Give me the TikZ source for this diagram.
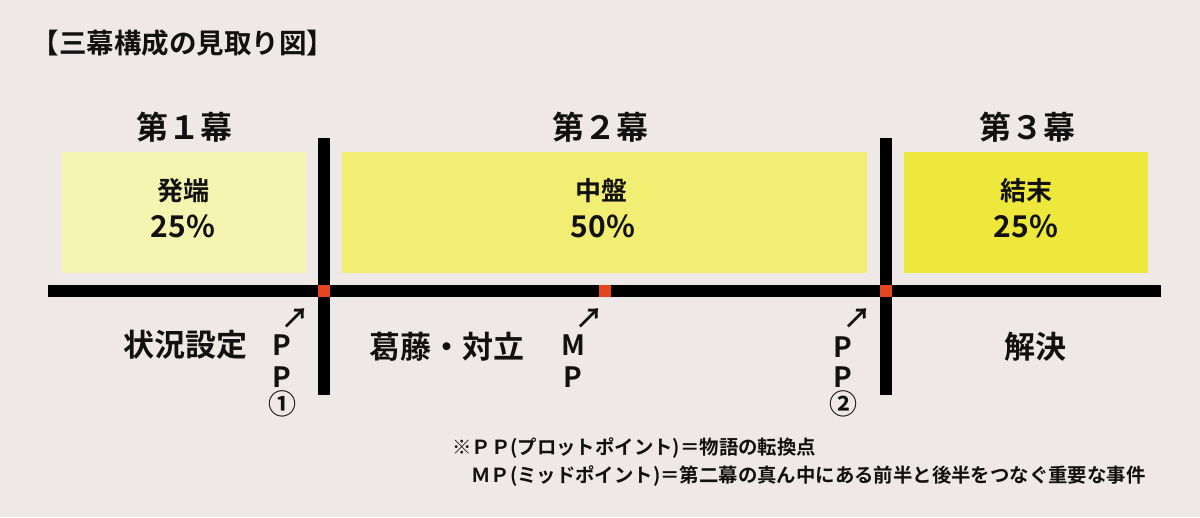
\documentclass[tikz,border=0pt]{standalone}
\usepackage{fontspec}
\setmainfont{Noto Sans CJK JP}[BoldFont={Noto Sans CJK JP Bold}]
\definecolor{bg}{HTML}{EEE9E6}
\definecolor{boxA}{HTML}{F5F4B0}
\definecolor{boxB}{HTML}{F1EE73}
\definecolor{boxC}{HTML}{EEE83C}
\definecolor{markred}{HTML}{E5461F}
\definecolor{ink}{HTML}{111111}
\tikzset{
  actbox/.style={draw=none, inner sep=0pt, minimum height=121pt},
  bartxt/.style={inner sep=0pt, text=ink, font=\bfseries\fontsize{26}{28}\selectfont},
  pcttxt/.style={inner sep=0pt, text=ink, font=\bfseries\fontsize{30}{32}\selectfont},
  headtxt/.style={inner sep=0pt, text=ink, font=\bfseries\fontsize{32}{34}\selectfont},
  labtxt/.style={inner sep=0pt, text=ink, font=\bfseries\fontsize{31}{33}\selectfont},
  ptxt/.style={inner sep=0pt, text=ink, font=\bfseries\fontsize{28}{30}\selectfont},
  arrtxt/.style={inner sep=0pt, text=ink, font=\bfseries\fontsize{28}{30}\selectfont},
  notetxt/.style={inner sep=0pt, text=ink, anchor=west, font=\bfseries\fontsize{19.4}{21}\selectfont},
  barfill/.style={fill=black},
  mk/.style={fill=markred, draw=none, minimum size=12pt, inner sep=0pt}
}
\begin{document}
\begin{tikzpicture}[x=1pt,y=-1pt]
\fill[bg] (0,0) rectangle (1200,517);
\useasboundingbox (0,0) rectangle (1200,517);

% title
\node[inner sep=0pt, text=ink, font=\bfseries\fontsize{27.5}{29}\selectfont] (title) at (183,43) {【三幕構成の見取り図】};

% headers
\node[headtxt] (h1) at (184,127) {第１幕};
\node[headtxt] (h2) at (600,127) {第２幕};
\node[headtxt] (h3) at (1027,127) {第３幕};

% boxes
\node[actbox, fill=boxA, minimum width=244pt] (b1) at (184,212) {};
\node[actbox, fill=boxB, minimum width=525pt] (b2) at (604.5,212) {};
\node[actbox, fill=boxC, minimum width=244pt] (b3) at (1026,212) {};

\node[bartxt] (t1) at (183,191) {発端};
\node[pcttxt] (p1) at (183,226) {25\%};
\node[bartxt] (t2) at (601,191) {中盤};
\node[pcttxt] (p2) at (603,226) {50\%};
\node[bartxt] (t3) at (1026,191) {結末};
\node[pcttxt] (p3) at (1026,226) {25\%};

% bars
\fill[barfill] (48,285) rectangle (1161,297);
\fill[barfill] (318,138) rectangle (330,395);
\fill[barfill] (880,138) rectangle (892,395);
\node[mk] (pp1) at (324,291) {};
\node[mk] (mp) at (604.5,291) {};
\node[mk] (pp2) at (886,291) {};

% PP1
\node[arrtxt] (a1) at (295,319) {↗};
\node[ptxt] (pp1a) at (282,345) {P};
\node[ptxt] (pp1b) at (282,377) {P};
\node[ptxt] (pp1c) at (282,404) {①};

% MP
\node[arrtxt] (a2) at (589,319) {↗};
\node[ptxt] (mpa) at (573,345) {M};
\node[ptxt] (mpb) at (573,377) {P};

% PP2
\node[arrtxt] (a3) at (857,319) {↗};
\node[ptxt] (pp2a) at (843,347) {P};
\node[ptxt] (pp2b) at (843,377) {P};
\node[ptxt] (pp2c) at (843,404) {②};

% labels
\node[labtxt] (l1) at (185,345) {状況設定};
\node[labtxt] (l2) at (447,347) {葛藤・対立};
\node[labtxt] (l3) at (1035,347) {解決};

% notes
\node[notetxt] (n1) at (452,448) {※ＰＰ(プロットポイント)＝物語の転換点};
\node[notetxt] (n2) at (471,476) {ＭＰ(ミッドポイント)＝第二幕の真ん中にある前半と後半をつなぐ重要な事件};
\end{tikzpicture}
\end{document}
